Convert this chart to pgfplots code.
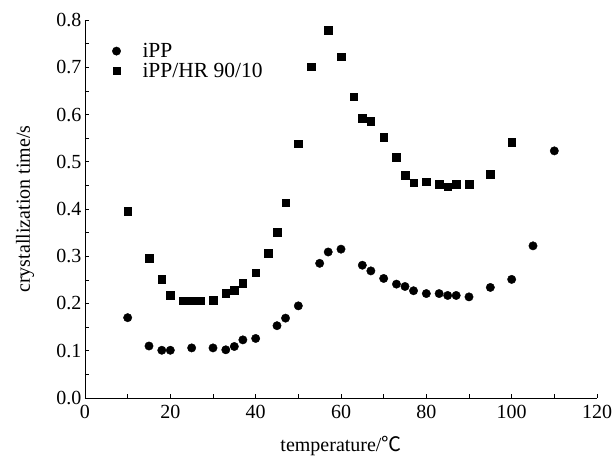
\documentclass[border=0pt]{standalone}
\usepackage{pgfplots}
\pgfplotsset{compat=1.18}
\usepackage{fontspec}
\setmainfont{Liberation Serif}
\newfontfamily\cjk{Noto Sans CJK SC}
\begin{document}
\begin{tikzpicture}
\begin{axis}[
  scale only axis,
  width=512pt, height=378pt,
  xmin=0, xmax=120, ymin=0, ymax=0.8,
  axis lines=left,
  axis line style={-, line width=0.8pt},
  xtick={0,20,...,120},
  minor xtick={10,30,...,110},
  ytick={0,0.1,...,0.8},
  minor ytick={0.05,0.15,...,0.75},
  tick align=inside,
  major tick length=4pt, minor tick length=4pt,
  tick style={black, line width=0.6pt},
  yticklabel style={/pgf/number format/fixed, /pgf/number format/fixed zerofill, /pgf/number format/precision=1},
  /pgf/number format/assume math mode=true,
  tick label style={font=\fontsize{20}{22}\selectfont},
  xticklabel style={yshift=-4pt},
  label style={font=\fontsize{20}{22}\selectfont},
  xlabel={temperature/{\cjk ℃}},
  ylabel={crystallization time/s},
  xlabel style={at={(axis description cs:0.5,-0.128)}, anchor=center},
  ylabel style={at={(axis description cs:-0.117,0.5)}, anchor=center},
  legend image code/.code={%
    \path[draw=none] (0pt,0pt) -- (24pt,0pt);
    \draw[#1] plot coordinates {(0pt,0pt)};},
  legend style={draw=none, fill=none, at={(rel axis cs:0.051,0.947)}, anchor=north west,
    font=\fontsize{21.5}{22}\selectfont, row sep=0pt, inner sep=1pt},
  legend cell align=left,
  clip=false,
]
\addplot[only marks, mark=*, mark size=4.2pt, black] coordinates {
(10,0.170) (15,0.110) (18,0.101) (20,0.101) (25,0.106) (30,0.106) (33,0.102)
(35,0.109) (37,0.123) (40,0.126) (45,0.153) (47,0.169) (50,0.195) (55,0.285)
(57,0.309) (60,0.315) (65,0.281) (67,0.269) (70,0.253) (73,0.241) (75,0.236)
(77,0.227) (80,0.221) (83,0.221) (85,0.217) (87,0.217) (90,0.214) (95,0.234)
(100,0.251) (105,0.322) (110,0.523)
};
\addlegendentry{iPP}
\addplot[only marks, mark=square*, mark size=3.8pt, black] coordinates {
(10,0.395) (15,0.296) (18,0.251) (20,0.217) (23,0.206) (25,0.206) (27,0.206)
(30,0.207) (33,0.222) (35,0.228) (37,0.243) (40,0.265) (43,0.307) (45,0.351)
(47,0.413) (50,0.538) (53,0.701) (57,0.779) (60,0.722) (63,0.638) (65,0.592)
(67,0.586) (70,0.552) (73,0.510) (75,0.471) (77,0.456) (80,0.458) (83,0.452)
(85,0.447) (87,0.452) (90,0.452) (95,0.473) (100,0.541)
};
\addlegendentry{iPP/HR 90/10}
\end{axis}
\path (current axis.south west) ++(-85pt,-62pt) (current axis.north east) ++(19pt,20pt);
\end{tikzpicture}
\end{document}
